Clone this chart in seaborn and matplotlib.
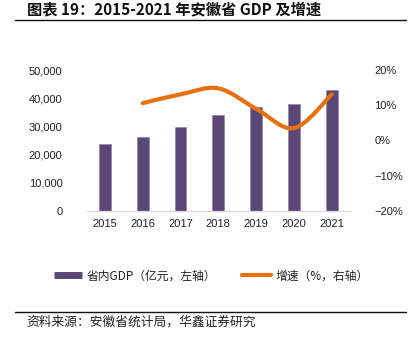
import matplotlib
matplotlib.use("Agg")
import matplotlib.pyplot as plt
from matplotlib.path import Path
from matplotlib.patches import PathPatch
from matplotlib.lines import Line2D
import matplotlib.ticker as mticker
import seaborn as sns
import pandas as pd

years = ["2015", "2016", "2017", "2018", "2019", "2020", "2021"]
gdp = [23831, 26308, 29676, 34011, 36846, 38100, 42959]
growth_years = ["2016", "2017", "2018", "2019", "2020", "2021"]
growth = [10.6, 13.1, 14.8, 9.0, 3.5, 13.1]
left_ticks = [0, 10000, 20000, 30000, 40000, 50000]
right_ticks = [-20, -10, 0, 10, 20]

title = "图表 19：2015-2021 年安徽省 GDP 及增速"
bar_label = "省内GDP（亿元，左轴）"
line_label = "增速（%，右轴）"
source = "资料来源：安徽省统计局，华鑫证券研究"

PURPLE = "#5B4879"
ORANGE = "#E8710F"

sns.set_theme(style="white")
plt.rcParams["font.family"] = ["Liberation Sans", "Noto Sans CJK SC", "DejaVu Sans"]
CJK = ["Noto Sans CJK SC", "DejaVu Sans"]

fig = plt.figure(figsize=(4.13, 3.39), dpi=100)
ax = fig.add_axes([86 / 413, 1 - 211 / 339, (350.7 - 86) / 413, (211 - 70) / 339])

df = pd.DataFrame({"year": years, "gdp": gdp})
sns.barplot(data=df, x="year", y="gdp", color=PURPLE, width=0.31, ax=ax,
            saturation=1, edgecolor="#8C7BA6", linewidth=0.4)
ax.set_xlim(-0.5, len(years) - 0.5)
ax.set_ylim(0, 50000)
ax.set_yticks(left_ticks)
ax.yaxis.set_major_formatter(mticker.FuncFormatter(lambda v, p: f"{int(v):,}"))
ax.set_xlabel("")
ax.set_ylabel("")
for s in ["left", "right", "top"]:
    ax.spines[s].set_visible(False)
ax.spines["bottom"].set_color("#D9D9D9")
ax.spines["bottom"].set_linewidth(0.9)
ax.tick_params(axis="both", length=0, labelsize=8, colors="#222222")
ax.tick_params(axis="y", pad=17)
ax.tick_params(axis="x", pad=6)

ax2 = ax.twinx()
ax2.set_ylim(-20, 20)
ax2.set_yticks(right_ticks)
ax2.yaxis.set_major_formatter(mticker.FuncFormatter(lambda v, p: f"{int(v)}%".replace("-", "\u2212")))
for s in ["left", "right", "top", "bottom"]:
    ax2.spines[s].set_visible(False)
ax2.tick_params(axis="y", length=0, labelsize=8, colors="#222222", pad=17)
ax2.grid(False)
ax.grid(False)

# smoothed line (Excel-style Catmull-Rom Bezier through the data points)
xs = [years.index(y) for y in growth_years]
pts = list(zip(xs, growth))
verts = [pts[0]]
codes = [Path.MOVETO]
n = len(pts)
for i in range(n - 1):
    p0 = pts[i - 1] if i > 0 else pts[i]
    p1 = pts[i]
    p2 = pts[i + 1]
    p3 = pts[i + 2] if i + 2 < n else pts[i + 1]
    c1 = (p1[0] + (p2[0] - p0[0]) / 6, p1[1] + (p2[1] - p0[1]) / 6)
    c2 = (p2[0] - (p3[0] - p1[0]) / 6, p2[1] - (p3[1] - p1[1]) / 6)
    verts += [c1, c2, p2]
    codes += [Path.CURVE4] * 3
patch = PathPatch(Path(verts, codes), facecolor="none", edgecolor=ORANGE,
                  linewidth=3.0, capstyle="round", joinstyle="round")
ax2.add_patch(patch)

# legend
handles = [Line2D([0], [0], color=PURPLE, lw=5, solid_capstyle="butt"),
           Line2D([0], [0], color=ORANGE, lw=3, solid_capstyle="round")]
fig.legend(handles, [bar_label, line_label], loc="center",
           bbox_to_anchor=(211 / 413, 1 - 276 / 339), ncol=2, frameon=False,
           prop={"family": CJK, "size": 8.5}, handlelength=2.4,
           handletextpad=0.4, columnspacing=2.2, labelcolor="#222222")

# title, rules, source
fig.text(27 / 413, 1 - 9.5 / 339, title, ha="left", va="center",
         family=CJK, fontsize=11, fontweight="bold", color="#111111")
fig.add_artist(Line2D([15 / 413, 406 / 413], [1 - 19.5 / 339] * 2, color="#111111", lw=1.0))
fig.add_artist(Line2D([15 / 413, 406 / 413], [1 - 312 / 339] * 2, color="#111111", lw=1.0))
fig.text(26 / 413, 1 - 322 / 339, source, ha="left", va="center",
         family=CJK, fontsize=9.2, color="#222222")

fig.savefig("out.png", dpi=100)
